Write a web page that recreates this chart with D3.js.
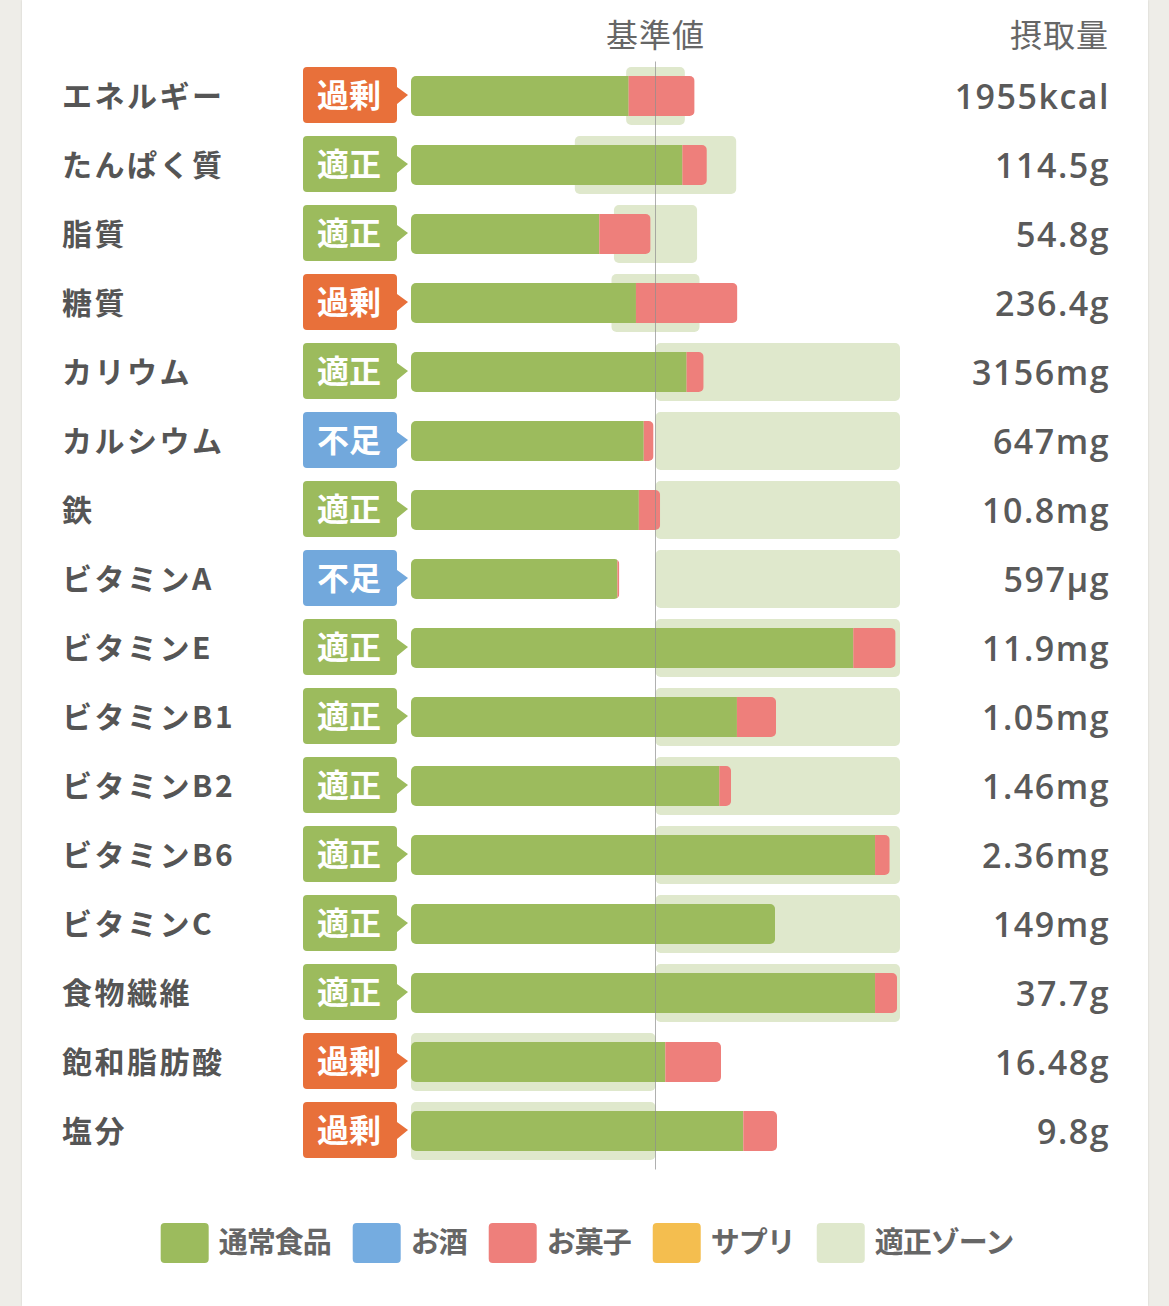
<!DOCTYPE html>
<html lang="ja">
<head>
  <meta charset="UTF-8" />
  <title>栄養素バランス</title>
  <script src="https://d3js.org/d3.v7.min.js"></script>
  <style>
    body {
      margin: 0;
      background: #eeede8;
      font-family: 'Noto Sans CJK JP', 'Noto Sans', sans-serif;
    }
    .panel {
      position: absolute;
      left: 22px;
      top: 0;
      width: 1126px;
      height: 1306px;
      background: #fff;
      box-shadow: 0 0 2px rgba(0, 0, 0, 0.12);
    }
    svg {
      position: absolute;
      left: 0;
      top: 0;
    }
    .label {
      fill: #555;
      font-size: 30px;
      font-weight: bold;
      letter-spacing: 2.5px;
    }
    .value {
      fill: #5a5a5a;
      font-family: 'Open Sans', 'Noto Sans CJK JP', sans-serif;
      font-size: 34px;
      font-weight: 600;
      letter-spacing: 1.5px;
    }
    .head {
      fill: #666;
      font-size: 32px;
      letter-spacing: 1px;
    }
    .badge-text {
      fill: #fff;
      font-size: 32px;
      font-weight: bold;
    }
    .legend-text {
      fill: #666;
      font-size: 29px;
      font-weight: bold;
      letter-spacing: -1px;
    }
  </style>
</head>
<body>
  <div class="panel"></div>
  <svg id="chart" width="1169" height="1306"></svg>

  <script>
    // nutrients (rows, top to bottom)
    const nutrients = ['エネルギー', 'たんぱく質', '脂質', '糖質', 'カリウム', 'カルシウム', '鉄',
      'ビタミンA', 'ビタミンE', 'ビタミンB1', 'ビタミンB2', 'ビタミンB6', 'ビタミンC',
      '食物繊維', '飽和脂肪酸', '塩分'];
    const status = ['過剰', '適正', '適正', '過剰', '適正', '不足', '適正', '不足',
      '適正', '適正', '適正', '適正', '適正', '適正', '過剰', '過剰'];
    const intake = ['1955kcal', '114.5g', '54.8g', '236.4g', '3156mg', '647mg', '10.8mg', '597µg',
      '11.9mg', '1.05mg', '1.46mg', '2.36mg', '149mg', '37.7g', '16.48g', '9.8g'];

    // % of the reference value, by source
    const food = [89, 111, 77, 92, 112.7, 95.2, 93.2, 84.4, 180.9, 133.3, 126.1, 189.8, 148.9, 189.8, 104, 135.9];
    const alcohol = [0, 0, 0, 0, 0, 0, 0, 0, 0, 0, 0, 0, 0, 0, 0, 0];
    const snack = [27, 10, 21, 41.5, 7, 4, 8.7, 0.8, 17.3, 16, 4.8, 6, 0, 9, 22.8, 13.8];
    const supplement = [0, 0, 0, 0, 0, 0, 0, 0, 0, 0, 0, 0, 0, 0, 0, 0];

    // appropriate zone (% of the reference value)
    const zoneLow = [88, 67, 83, 82, 100, 100, 100, 100, 100, 100, 100, 100, 100, 100, 0, 0];
    const zoneHigh = [112, 133, 117, 118, 200, 200, 200, 200, 200, 200, 200, 200, 200, 200, 100, 100];

    const sources = ['通常食品', 'お酒', 'お菓子', 'サプリ'];
    const legendLabels = ['通常食品', 'お酒', 'お菓子', 'サプリ', '適正ゾーン'];

    const sourceColor = { '通常食品': '#9cbb5d', 'お酒': '#75ace0', 'お菓子': '#ee7f7b', 'サプリ': '#f4be4f' };
    const zoneColor = '#dfe8cc';
    const badgeColor = { '過剰': '#e8703a', '適正': '#9cbb5d', '不足': '#72a8dc' };

    const svg = d3.select('#chart');

    const x = d3.scaleLinear().domain([0, 200]).range([411, 900]);
    const y = d3.scaleBand().domain(nutrients).range([61.5, 61.5 + 69 * nutrients.length]);
    const mid = d => y(d) + y.bandwidth() / 2;

    const rows = nutrients.map((name, i) => ({
      name, i,
      status: status[i],
      intake: intake[i],
      lo: zoneLow[i],
      hi: zoneHigh[i],
      parts: [food[i], alcohol[i], snack[i], supplement[i]]
    }));

    // stacked segments per row
    const stack = d3.stack().keys(d3.range(4)).value((d, k) => d.parts[k]);
    const series = stack(rows);

    // headers
    svg.append('text').attr('class', 'head')
      .attr('x', x(100)).attr('y', 47)
      .attr('text-anchor', 'middle')
      .text('基準値');
    svg.append('text').attr('class', 'head')
      .attr('x', 1109).attr('y', 47)
      .attr('text-anchor', 'end')
      .text('摂取量');

    // appropriate zones
    svg.selectAll('.zone')
      .data(rows)
      .enter()
      .append('rect')
      .attr('class', 'zone')
      .attr('x', d => x(d.lo))
      .attr('y', d => mid(d.name) - 29)
      .attr('width', d => x(d.hi) - x(d.lo))
      .attr('height', 58)
      .attr('rx', 5)
      .attr('fill', zoneColor);

    // clip every bar to a rounded rect of its total length
    const defs = svg.append('defs');
    defs.selectAll('clipPath')
      .data(rows)
      .enter()
      .append('clipPath')
      .attr('id', d => 'clip' + d.i)
      .append('rect')
      .attr('x', x(0))
      .attr('y', d => mid(d.name) - 20)
      .attr('width', d => x(d3.sum(d.parts)) - x(0))
      .attr('height', 40)
      .attr('rx', 5);

    const barGroups = svg.selectAll('.bar')
      .data(rows)
      .enter()
      .append('g')
      .attr('class', 'bar')
      .attr('clip-path', d => `url(#clip${d.i})`);

    barGroups.selectAll('rect')
      .data(d => series.map((s, k) => ({ row: d, seg: s[d.i], key: sources[k] })))
      .enter()
      .append('rect')
      .attr('x', d => x(d.seg[0]))
      .attr('y', d => mid(d.row.name) - 20)
      .attr('width', d => x(d.seg[1]) - x(d.seg[0]))
      .attr('height', 40)
      .attr('fill', d => sourceColor[d.key]);

    // reference line at 100%
    svg.append('line')
      .attr('x1', x(100)).attr('x2', x(100))
      .attr('y1', y.range()[0]).attr('y2', y.range()[1] + 4)
      .attr('stroke', '#8f8f8f')
      .attr('stroke-opacity', 0.7)
      .attr('stroke-width', 1);

    // nutrient names
    svg.selectAll('.label')
      .data(rows)
      .enter()
      .append('text')
      .attr('class', 'label')
      .attr('x', 62)
      .attr('y', d => mid(d.name))
      .attr('dy', '0.36em')
      .text(d => d.name);

    // status badges (box with an arrow pointing to the bar)
    function badgePath(cy) {
      const l = 303, r = 397, t = cy - 29, b = cy + 27, rr = 4;
      return `M${l + rr},${t} H${r - rr} Q${r},${t} ${r},${t + rr}` +
        ` V${cy - 9} L${r + 11},${cy - 1} L${r},${cy + 8}` +
        ` V${b - rr} Q${r},${b} ${r - rr},${b} H${l + rr} Q${l},${b} ${l},${b - rr}` +
        ` V${t + rr} Q${l},${t} ${l + rr},${t} Z`;
    }

    svg.selectAll('.badge')
      .data(rows)
      .enter()
      .append('path')
      .attr('class', 'badge')
      .attr('d', d => badgePath(mid(d.name)))
      .attr('fill', d => badgeColor[d.status]);

    svg.selectAll('.badge-text')
      .data(rows)
      .enter()
      .append('text')
      .attr('class', 'badge-text')
      .attr('x', 349)
      .attr('y', d => mid(d.name) - 1)
      .attr('dy', '0.36em')
      .attr('text-anchor', 'middle')
      .text(d => d.status);

    // intake amounts (x nudged right to absorb the trailing letter-spacing)
    svg.selectAll('.value')
      .data(rows)
      .enter()
      .append('text')
      .attr('class', 'value')
      .attr('x', 1110)
      .attr('y', d => mid(d.name) + 1)
      .attr('dy', '0.36em')
      .attr('text-anchor', 'end')
      .text(d => d.intake);

    // legend, laid out from measured text widths and centred on the panel
    const legendColors = legendLabels.map(l => sourceColor[l] || zoneColor);
    const legend = svg.append('g').attr('transform', 'translate(0,1243)');
    const gap = 22;
    let cursor = 0;
    legendLabels.forEach((label, i) => {
      const item = legend.append('g').attr('transform', `translate(${cursor},0)`);
      item.append('rect')
        .attr('x', 0).attr('y', -20)
        .attr('width', 48).attr('height', 40)
        .attr('rx', 4)
        .attr('fill', legendColors[i]);
      const t = item.append('text')
        .attr('class', 'legend-text')
        .attr('x', 58)
        .attr('dy', '0.36em')
        .text(label);
      cursor += 58 + t.node().getComputedTextLength() + gap;
    });
    const legendWidth = cursor - gap;
    legend.attr('transform', `translate(${587 - legendWidth / 2},1243)`);
  </script>
</body>
</html>
